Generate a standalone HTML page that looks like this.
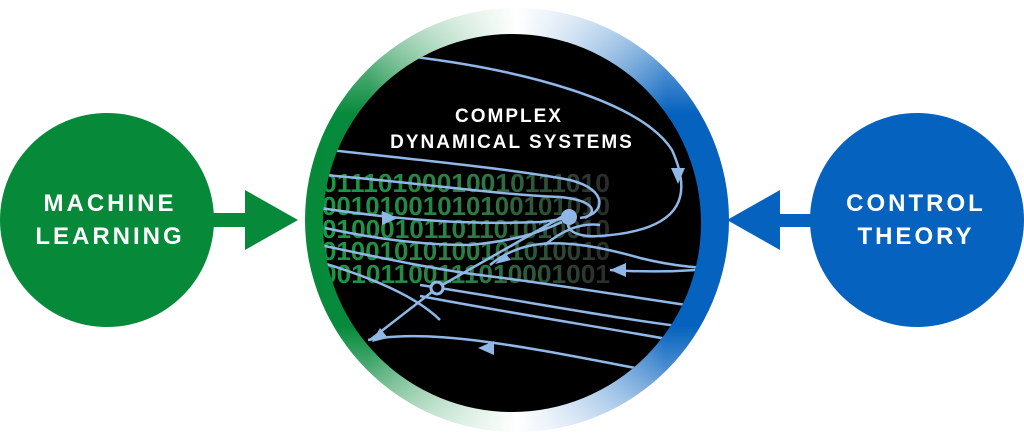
<!DOCTYPE html>
<html><head><meta charset="utf-8"><style>
html,body{margin:0;padding:0;background:#fff;width:1024px;height:440px;overflow:hidden}
</style></head><body>
<svg width="1024" height="440" viewBox="0 0 1024 440" xmlns="http://www.w3.org/2000/svg" font-family="Liberation Sans, sans-serif">
<defs>
<linearGradient id="ring" x1="0" y1="0" x2="1" y2="0">
<stop offset="0" stop-color="#068a3a"/>
<stop offset="0.15" stop-color="#078a3c"/>
<stop offset="0.5" stop-color="#ffffff"/>
<stop offset="0.85" stop-color="#0562be"/>
<stop offset="1" stop-color="#0562be"/>
</linearGradient>
<linearGradient id="ringv" x1="0" y1="0" x2="0" y2="1">
<stop offset="0" stop-color="#fff" stop-opacity="0.7"/>
<stop offset="0.25" stop-color="#fff" stop-opacity="0"/>
<stop offset="0.75" stop-color="#fff" stop-opacity="0"/>
<stop offset="1" stop-color="#fff" stop-opacity="0.7"/>
</linearGradient>
<linearGradient id="bin" x1="322" y1="0" x2="610" y2="0" gradientUnits="userSpaceOnUse">
<stop offset="0" stop-color="#1a9a45"/>
<stop offset="0.55" stop-color="#2e7a45"/>
<stop offset="1" stop-color="#2a2a2a"/>
</linearGradient>
<clipPath id="inner"><circle cx="512" cy="223" r="189"/></clipPath>
</defs>
<circle cx="107" cy="220" r="107" fill="#068a3a"/>
<rect x="210" y="213" width="37" height="14" fill="#068a3a"/>
<polygon points="245,190 298,220 245,250" fill="#068a3a"/>
<text x="110" y="211" fill="#fff" font-size="24" font-weight="bold" text-anchor="middle" letter-spacing="3">MACHINE</text>
<text x="110" y="244" fill="#fff" font-size="24" font-weight="bold" text-anchor="middle" letter-spacing="3">LEARNING</text>
<circle cx="917" cy="220" r="107" fill="#0562be"/>
<rect x="778" y="214" width="35" height="13" fill="#0562be"/>
<polygon points="780,190 727,220 780,250" fill="#0562be"/>
<text x="916" y="211" fill="#fff" font-size="24" font-weight="bold" text-anchor="middle" letter-spacing="3">CONTROL</text>
<text x="916" y="244" fill="#fff" font-size="24" font-weight="bold" text-anchor="middle" letter-spacing="3">THEORY</text>
<circle cx="517" cy="220" r="212" fill="url(#ring)"/>
<circle cx="517" cy="220" r="212" fill="url(#ringv)"/>
<circle cx="512" cy="223" r="189" fill="#000"/>
<g clip-path="url(#inner)">
<g font-size="26" font-weight="bold" fill="url(#bin)">
<text x="322" y="192" textLength="288" lengthAdjust="spacingAndGlyphs">01110100010010111010</text>
<text x="322" y="215" textLength="288" lengthAdjust="spacingAndGlyphs">00101001010100101010</text>
<text x="322" y="238" textLength="288" lengthAdjust="spacingAndGlyphs">01000101101101010010</text>
<text x="322" y="260" textLength="288" lengthAdjust="spacingAndGlyphs">01001010100101010010</text>
<text x="322" y="283" textLength="288" lengthAdjust="spacingAndGlyphs">00101100111010001001</text>
</g>
<g fill="none" stroke="#8fb8e6" stroke-width="2.5">
<path d="M415,57 C520,70 640,100 672,150 C690,190 690,230 600,236 C570,238 560,225 575,215"/>
<path d="M330,150 C420,160 520,170 570,180 C610,190 605,215 580,218"/>
<path d="M325,175 C420,183 500,195 560,197 C590,200 600,210 585,218"/>
<path d="M320,208 C400,220 470,225 540,222 C560,220 565,218 570,217"/>
<path d="M325,228 C380,240 430,245 470,245 C520,240 540,232 562,222"/>
<path d="M320,245 C390,260 440,270 480,275 C560,285 650,300 720,310"/>
<path d="M320,262 C380,280 420,300 440,320"/>
<path d="M420,285 C520,300 620,320 710,330"/>
<path d="M420,296 C520,315 620,330 700,345"/>
<path d="M490,265 C520,240 560,235 640,258 C680,268 710,268 710,268"/>
<path d="M545,245 C560,232 580,222 600,225"/>
<path d="M368,340 C440,325 560,355 700,380"/>
<path d="M370,340 L437,288 L565,215"/>
<path d="M610,270 C640,272 680,272 720,268"/>
</g>
<g fill="#8fb8e6">
<polygon points="671,168 685,168 678,184"/>
<polygon points="610,270 626,263 626,277"/>
<polygon points="478,348 494,341 494,355"/>
<polygon points="372,342 380,328 388,338"/>
<polygon points="505,253 495,264 511,260"/>
<polygon points="398,218 382,211 382,225"/>
</g>
<circle cx="569" cy="217" r="8" fill="#8fb8e6"/>
<circle cx="437" cy="288" r="6" fill="#000" stroke="#8fb8e6" stroke-width="3"/>
</g>
<text x="509" y="122" fill="#fff" font-size="19" font-weight="bold" text-anchor="middle" letter-spacing="2">COMPLEX</text>
<text x="512" y="148" fill="#fff" font-size="19" font-weight="bold" text-anchor="middle" letter-spacing="2">DYNAMICAL SYSTEMS</text>
</svg>
</body></html>
